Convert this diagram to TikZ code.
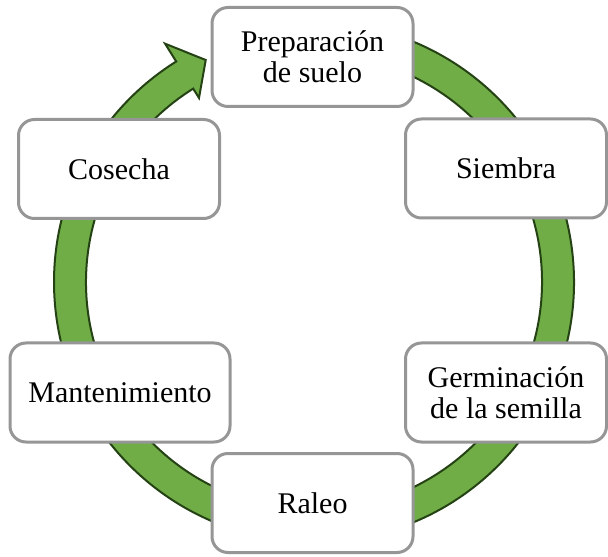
\documentclass[tikz,border=0pt]{standalone}
\usepackage{fontspec}
\setmainfont{Liberation Serif}
\usepackage{xcolor}
\usetikzlibrary{positioning,shapes,arrows}
\definecolor{ringgreen}{RGB}{112,173,71}
\definecolor{ringdark}{RGB}{36,66,20}
\definecolor{boxgray}{RGB}{150,150,150}

\begin{document}
\begin{tikzpicture}[x=0.5pt, y=0.5pt]
		\useasboundingbox (0,0) rectangle (608,556);
		% circular arrow behind the boxes
		\begin{scope}[shift={(314,274)}]
			\filldraw[fill=ringgreen, draw=ringdark, line width=1pt, line join=miter]
			(95:260) arc[start angle=95, end angle=-238, radius=260]
			-- (-238:281) -- (-244:247) -- (-238:217) -- (-238:228)
			arc[start angle=-238, end angle=95, radius=228] -- cycle;
		\end{scope}
		\begin{scope}[every node/.style={rectangle, rounded corners=8pt, draw=boxgray, line width=1.5pt, fill=white,
				minimum width=100.5pt, minimum height=49.5pt, align=center, font=\fontsize{15}{15.5}\selectfont}]
			\node (prep) at (312.5,499) {Preparación\\de suelo};
			\node (siem) at (506,387.5) {Siembra};
			\node (germ) at (506,163.5) {Germinación\\de la semilla};
			\node (ral) at (312.5,53) {Raleo};
			\node[minimum width=110pt] (mant) at (120,163.5) {Mantenimiento};
			\node (cos) at (119,387) {Cosecha};
		\end{scope}
	\end{tikzpicture}
\end{document}
